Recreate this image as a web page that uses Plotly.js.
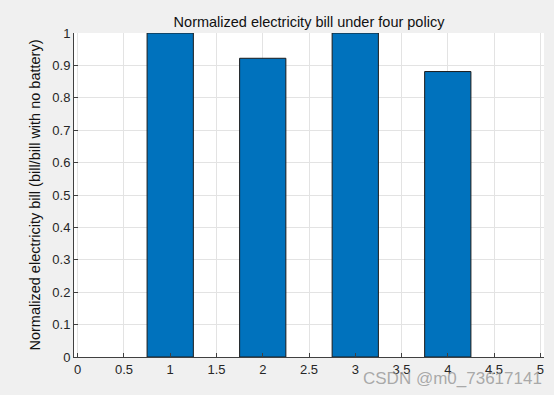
<!DOCTYPE html>
<html>
<head>
<meta charset="utf-8">
<script src="https://cdn.plot.ly/plotly-3.0.1.min.js"></script>
<style>html,body{margin:0;padding:0;background:#f0f0f0;}#chart{width:554px;height:395px;}</style>
</head>
<body>
<div id="chart"></div>
<script>
const policies = [1, 2, 3, 4];
const normalizedBill = [1.0, 0.922, 1.0, 0.881];
const xTickVals = [0, 0.5, 1, 1.5, 2, 2.5, 3, 3.5, 4, 4.5, 5];
const xTickText = ['0', '0.5', '1', '1.5', '2', '2.5', '3', '3.5', '4', '4.5', '5'];
const yTickVals = [0, 0.1, 0.2, 0.3, 0.4, 0.5, 0.6, 0.7, 0.8, 0.9, 1];
const yTickText = ['0', '0.1', '0.2', '0.3', '0.4', '0.5', '0.6', '0.7', '0.8', '0.9', '1'];

const font = {family: 'Liberation Sans, Arial, sans-serif', size: 13, color: '#262626'};

Plotly.newPlot('chart', [{
  type: 'bar',
  x: policies,
  y: normalizedBill,
  width: 0.5,
  marker: {color: '#0072BD', line: {color: '#1a1a1a', width: 1}},
  hoverinfo: 'none'
}], {
  width: 554, height: 395,
  margin: {l: 74, r: 10, t: 33, b: 38, pad: 0},
  paper_bgcolor: '#f0f0f0',
  plot_bgcolor: '#ffffff',
  font: font,
  showlegend: false,
  title: {text: 'Normalized electricity bill under four policy', font: {family: font.family, size: 14.5, color: '#111'}, x: 0.5, xref: 'paper', xanchor: 'center', y: 1, yref: 'paper', yanchor: 'bottom', pad: {b: 6}},
  xaxis: {
    range: [-0.04, 5.04], tickvals: xTickVals, ticktext: xTickText,
    showgrid: true, gridcolor: '#e3e3e3', gridwidth: 1,
    zeroline: false, showline: true, linecolor: '#404040', linewidth: 1,
    ticks: 'inside', ticklen: 4, tickcolor: '#404040',
    tickfont: {family: font.family, size: 13, color: '#262626'}, fixedrange: true
  },
  yaxis: {
    range: [0, 1], tickvals: yTickVals, ticktext: yTickText,
    showgrid: true, gridcolor: '#e3e3e3', gridwidth: 1,
    zeroline: false, showline: true, linecolor: '#404040', linewidth: 1,
    ticks: 'inside', ticklen: 4, tickcolor: '#404040',
    tickfont: {family: font.family, size: 13, color: '#262626'},
    title: {text: 'Normalized electricity bill (bill/bill with no battery)', font: {family: font.family, size: 14.5, color: '#111'}, standoff: 8},
    fixedrange: true
  },
  annotations: [{
    text: 'CSDN @m0_73617141', xref: 'paper', yref: 'paper', x: 1.0, y: -0.065,
    xanchor: 'right', yanchor: 'middle', showarrow: false,
    font: {family: font.family, size: 17, color: 'rgba(150,150,150,0.8)'}
  }]
}, {displayModeBar: false, staticPlot: true});
</script>
</body>
</html>
